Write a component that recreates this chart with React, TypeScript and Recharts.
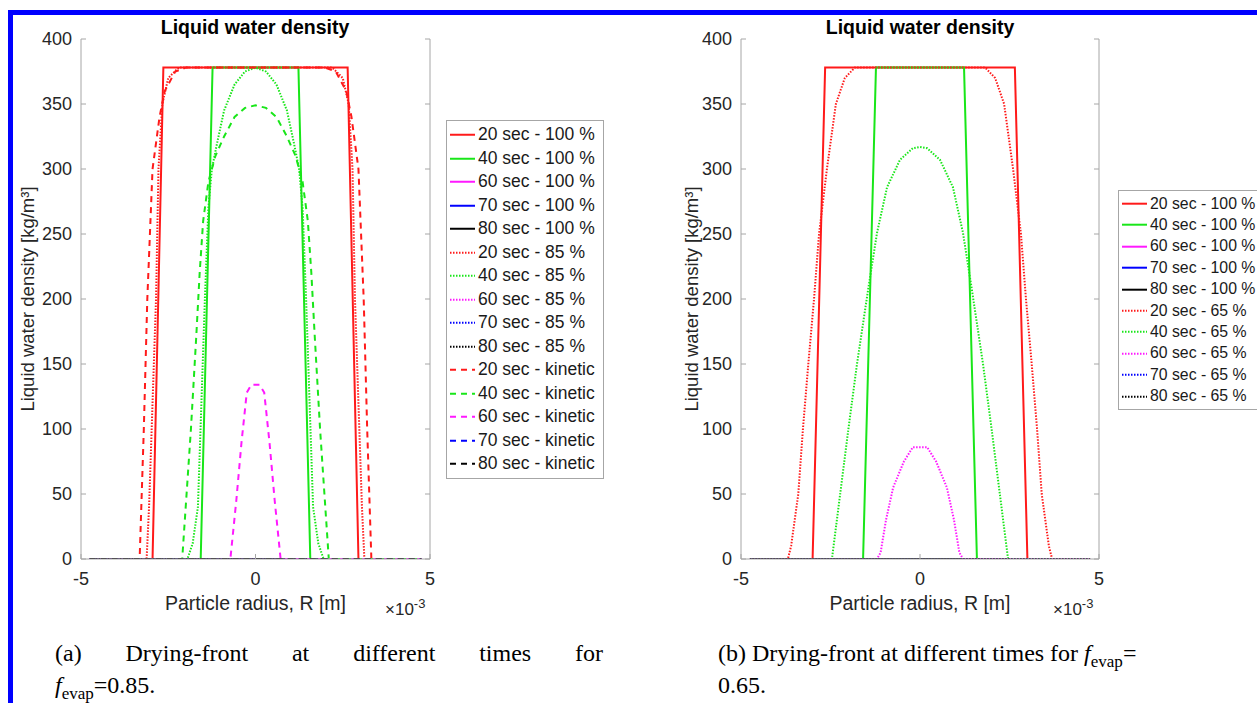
import React from "react"
import { LineChart, Line, XAxis, YAxis, Legend } from "recharts"

type Pt = [number, number]

const X_TICKS = [-5, 0, 5]
const Y_TICKS = [0, 50, 100, 150, 200, 250, 300, 350, 400]

// zero profile (fully dried particle)
const zeroLine: Pt[] = [[-4.75, 0], [4.75, 0]]

// (a) f_evap = 0.85
const a20full: Pt[] = [[-4.75, 0], [-2.95, 0], [-2.64, 378], [2.64, 378], [2.95, 0], [4.75, 0]]
const a40full: Pt[] = [[-4.75, 0], [-1.57, 0], [-1.23, 378], [1.23, 378], [1.57, 0], [4.75, 0]]
const a20p85: Pt[] = [
  [-4.75, 0], [-3.12, 0], [-3.05, 40], [-2.95, 120], [-2.85, 200], [-2.78, 300], [-2.67, 350],
  [-2.5, 370], [-2.2, 378], [2.2, 378], [2.5, 370], [2.67, 350], [2.78, 300], [2.85, 200],
  [2.95, 120], [3.05, 40], [3.12, 0], [4.75, 0],
]
const a40p85: Pt[] = [
  [-4.75, 0], [-1.95, 0], [-1.8, 12], [-1.65, 40], [-1.55, 120], [-1.45, 200], [-1.35, 270],
  [-1.25, 300], [-1.1, 320], [-0.9, 345], [-0.6, 365], [-0.3, 375], [0, 378], [0.3, 375],
  [0.6, 365], [0.9, 345], [1.1, 320], [1.25, 300], [1.35, 270], [1.45, 200], [1.55, 120],
  [1.65, 40], [1.8, 12], [1.95, 0], [4.75, 0],
]
const a20kin: Pt[] = [
  [-4.75, 0], [-3.32, 0], [-3.2, 100], [-3.1, 200], [-2.95, 300], [-2.75, 340], [-2.6, 360],
  [-2.3, 375], [-2.0, 378], [2.0, 378], [2.3, 375], [2.6, 360], [2.75, 340], [2.95, 300],
  [3.1, 200], [3.2, 100], [3.32, 0], [4.75, 0],
]
const a40kin: Pt[] = [
  [-4.75, 0], [-2.1, 0], [-2.0, 40], [-1.85, 100], [-1.7, 170], [-1.6, 220], [-1.5, 260],
  [-1.35, 290], [-1.15, 310], [-0.9, 325], [-0.6, 340], [-0.3, 347], [0, 349], [0.3, 347],
  [0.6, 340], [0.9, 325], [1.15, 310], [1.35, 290], [1.5, 260], [1.6, 220], [1.7, 170],
  [1.85, 100], [2.0, 40], [2.1, 0], [4.75, 0],
]
const a60kin: Pt[] = [
  [-4.75, 0], [-0.72, 0], [-0.55, 45], [-0.4, 90], [-0.25, 128], [-0.12, 134], [0.12, 134],
  [0.25, 128], [0.4, 90], [0.55, 45], [0.72, 0], [4.75, 0],
]

// (b) f_evap = 0.65
const b20full: Pt[] = [[-4.75, 0], [-3.0, 0], [-2.65, 378], [2.65, 378], [3.0, 0], [4.75, 0]]
const b40full: Pt[] = [[-4.75, 0], [-1.59, 0], [-1.23, 378], [1.23, 378], [1.59, 0], [4.75, 0]]
const b20p65: Pt[] = [
  [-4.75, 0], [-3.69, 0], [-3.6, 10], [-3.4, 50], [-3.27, 100], [-3.12, 150], [-2.96, 200],
  [-2.82, 250], [-2.6, 300], [-2.35, 350], [-2.1, 370], [-1.82, 378], [1.82, 378], [2.1, 370],
  [2.35, 350], [2.6, 300], [2.82, 250], [2.96, 200], [3.12, 150], [3.27, 100], [3.4, 50],
  [3.6, 10], [3.69, 0], [4.75, 0],
]
const b40p65: Pt[] = [
  [-4.75, 0], [-2.46, 0], [-2.23, 50], [-2.0, 100], [-1.76, 150], [-1.45, 207], [-1.2, 251],
  [-0.92, 286], [-0.56, 307], [-0.2, 316], [0, 317], [0.2, 316], [0.56, 307], [0.92, 286],
  [1.2, 251], [1.45, 207], [1.76, 150], [2.0, 100], [2.23, 50], [2.46, 0], [4.75, 0],
]
const b60p65: Pt[] = [
  [-4.75, 0], [-1.2, 0], [-1.1, 5], [-0.95, 30], [-0.75, 55], [-0.45, 75], [-0.2, 86],
  [0.2, 86], [0.45, 75], [0.75, 55], [0.95, 30], [1.1, 5], [1.2, 0], [4.75, 0],
]

const RED = "#ff1a1a"
const GREEN = "#19e619"
const MAGENTA = "#ff19ff"
const BLUE = "#0000ff"
const BLACK = "#000000"
const DOT = "1.5 1.5"
const DASH = "6 5"

type Series = { name: string; color: string; dash?: string; pts: Pt[] }

const seriesA: Series[] = [
  { name: "20 sec - 100 %", color: RED, pts: a20full },
  { name: "40 sec - 100 %", color: GREEN, pts: a40full },
  { name: "60 sec - 100 %", color: MAGENTA, pts: zeroLine },
  { name: "70 sec - 100 %", color: BLUE, pts: zeroLine },
  { name: "80 sec - 100 %", color: BLACK, pts: zeroLine },
  { name: "20 sec - 85 %", color: RED, dash: DOT, pts: a20p85 },
  { name: "40 sec - 85 %", color: GREEN, dash: DOT, pts: a40p85 },
  { name: "60 sec - 85 %", color: MAGENTA, dash: DOT, pts: zeroLine },
  { name: "70 sec - 85 %", color: BLUE, dash: DOT, pts: zeroLine },
  { name: "80 sec - 85 %", color: BLACK, dash: DOT, pts: zeroLine },
  { name: "20 sec - kinetic", color: RED, dash: DASH, pts: a20kin },
  { name: "40 sec - kinetic", color: GREEN, dash: DASH, pts: a40kin },
  { name: "60 sec - kinetic", color: MAGENTA, dash: DASH, pts: a60kin },
  { name: "70 sec - kinetic", color: BLUE, dash: DASH, pts: zeroLine },
  { name: "80 sec - kinetic", color: BLACK, dash: DASH, pts: zeroLine },
]

const seriesB: Series[] = [
  { name: "20 sec - 100 %", color: RED, pts: b20full },
  { name: "40 sec - 100 %", color: GREEN, pts: b40full },
  { name: "60 sec - 100 %", color: MAGENTA, pts: zeroLine },
  { name: "70 sec - 100 %", color: BLUE, pts: zeroLine },
  { name: "80 sec - 100 %", color: BLACK, pts: zeroLine },
  { name: "20 sec - 65 %", color: RED, dash: DOT, pts: b20p65 },
  { name: "40 sec - 65 %", color: GREEN, dash: DOT, pts: b40p65 },
  { name: "60 sec - 65 %", color: MAGENTA, dash: DOT, pts: b60p65 },
  { name: "70 sec - 65 %", color: BLUE, dash: DOT, pts: zeroLine },
  { name: "80 sec - 65 %", color: BLACK, dash: DOT, pts: zeroLine },
]

const AXIS_GREY = "#a6a6a6"
const TEXT = "#262626"
const SANS = "'Liberation Sans', Arial, sans-serif"

const legendContent = (items: Series[], rowH: number, fontSize: number) => () => (
  <div style={{ border: `1px solid ${AXIS_GREY}`, background: "#fff", padding: "2px 0", fontFamily: SANS }}>
    {items.map((s) => (
      <div key={s.name} style={{ display: "flex", alignItems: "center", height: rowH }}>
        <svg width={31} height={rowH} style={{ flex: "none" }}>
          <line x1={3} x2={28} y1={rowH / 2} y2={rowH / 2} stroke={s.color} strokeWidth={2} strokeDasharray={s.dash} />
        </svg>
        <span style={{ fontSize, color: "#1a1a1a", whiteSpace: "nowrap" }}>{s.name}</span>
      </div>
    ))}
  </div>
)

interface PanelProps {
  series: Series[]
  width: number
  rightMargin: number
  legendLeft: number
  legendTop: number
  legendWidth: number
  rowH: number
  legendFont: number
  yLabelOffset: number
}

const Panel = ({ series, width, rightMargin, legendLeft, legendTop, legendWidth, rowH, legendFont, yLabelOffset }: PanelProps) => (
  <LineChart width={width} height={640} margin={{ top: 39, right: rightMargin, bottom: 21, left: 21 }} style={{ fontFamily: SANS }}>
    <XAxis
      dataKey="x"
      type="number"
      domain={[-5, 5]}
      ticks={X_TICKS}
      allowDataOverflow
      height={60}
      stroke={AXIS_GREY}
      tickSize={-5}
      tickMargin={18}
      tick={{ fill: TEXT, fontSize: 18 }}
      label={{ value: "Particle radius, R [m]", position: "insideBottom", offset: 9, fill: TEXT, fontSize: 19.5 }}
    />
    <XAxis
      xAxisId="top"
      orientation="top"
      type="number"
      domain={[-5, 5]}
      ticks={X_TICKS}
      allowDataOverflow
      height={0}
      stroke={AXIS_GREY}
      tickSize={-5}
      tickFormatter={() => ""}
    />
    <YAxis
      type="number"
      domain={[0, 400]}
      ticks={Y_TICKS}
      allowDataOverflow
      width={60}
      stroke={AXIS_GREY}
      tickSize={-5}
      tickMargin={14}
      tick={{ fill: TEXT, fontSize: 18 }}
      label={{
        value: "Liquid water density [kg/m³]",
        angle: -90,
        position: "insideLeft",
        offset: yLabelOffset,
        fill: TEXT,
        fontSize: 18.5,
        style: { textAnchor: "middle" },
      }}
    />
    <YAxis
      yAxisId="right"
      orientation="right"
      type="number"
      domain={[0, 400]}
      ticks={Y_TICKS}
      allowDataOverflow
      width={1}
      stroke={AXIS_GREY}
      tickSize={-5}
      tickFormatter={() => ""}
    />
    <Legend
      layout="vertical"
      align="center"
      verticalAlign="middle"
      content={legendContent(series, rowH, legendFont)}
      wrapperStyle={{ left: legendLeft, top: legendTop, width: legendWidth }}
    />
    {series.map((s) => (
      <Line
        key={s.name}
        name={s.name}
        data={s.pts.map(([x, y]) => ({ x, y }))}
        dataKey="y"
        type="linear"
        stroke={s.color}
        strokeWidth={2}
        strokeDasharray={s.dash}
        dot={false}
        activeDot={false}
        isAnimationActive={false}
      />
    ))}
  </LineChart>
)

const titleStyle: React.CSSProperties = {
  position: "absolute",
  top: 16,
  width: 300,
  textAlign: "center",
  fontFamily: SANS,
  fontWeight: "bold",
  fontSize: 19.5,
  color: "#000",
}

const expStyle: React.CSSProperties = {
  position: "absolute",
  top: 596,
  fontFamily: SANS,
  fontSize: 17,
  color: TEXT,
}

const capStyle: React.CSSProperties = {
  position: "absolute",
  fontFamily: "'Liberation Serif', 'Times New Roman', serif",
  fontSize: 24,
  color: "#000",
  whiteSpace: "nowrap",
}

const Fevap = () => (
  <>
    <i>f</i>
    <sub style={{ fontSize: 17 }}>evap</sub>
  </>
)

export default function App() {
  return (
    <div style={{ position: "absolute", left: 0, top: 0, width: 1257, height: 703, background: "#fff", overflow: "hidden" }}>
      <div style={{ position: "absolute", left: 8, top: 10, width: 1249, height: 5, background: "#0000ff" }} />
      <div style={{ position: "absolute", left: 8, top: 10, width: 5, height: 693, background: "#0000ff" }} />

      <div style={{ position: "absolute", left: 0, top: 0 }}>
        <Panel series={seriesA} width={640} rightMargin={209} legendLeft={446} legendTop={120} legendWidth={158} rowH={23.5} legendFont={17.5} yLabelOffset={6} />
      </div>
      <div style={{ position: "absolute", left: 660, top: 0 }}>
        <Panel series={seriesB} width={597} rightMargin={157} legendLeft={458} legendTop={190} legendWidth={175} rowH={21.4} legendFont={15.8} yLabelOffset={10} />
      </div>

      <div style={{ ...titleStyle, left: 105 }}>Liquid water density</div>
      <div style={{ ...titleStyle, left: 770 }}>Liquid water density</div>

      <div style={{ ...expStyle, left: 385 }}>×10<sup style={{ fontSize: 13 }}>-3</sup></div>
      <div style={{ ...expStyle, left: 1053 }}>×10<sup style={{ fontSize: 13 }}>-3</sup></div>

      <div style={{ ...capStyle, left: 55, top: 640, width: 548, textAlign: "justify", textAlignLast: "justify", whiteSpace: "normal" }}>
        (a) Drying-front at different times for
      </div>
      <div style={{ ...capStyle, left: 55, top: 672 }}>
        <Fevap />=0.85.
      </div>
      <div style={{ ...capStyle, left: 718, top: 640 }}>
        (b) Drying-front at different times for <Fevap />=
      </div>
      <div style={{ ...capStyle, left: 718, top: 672 }}>0.65.</div>
    </div>
  )
}
